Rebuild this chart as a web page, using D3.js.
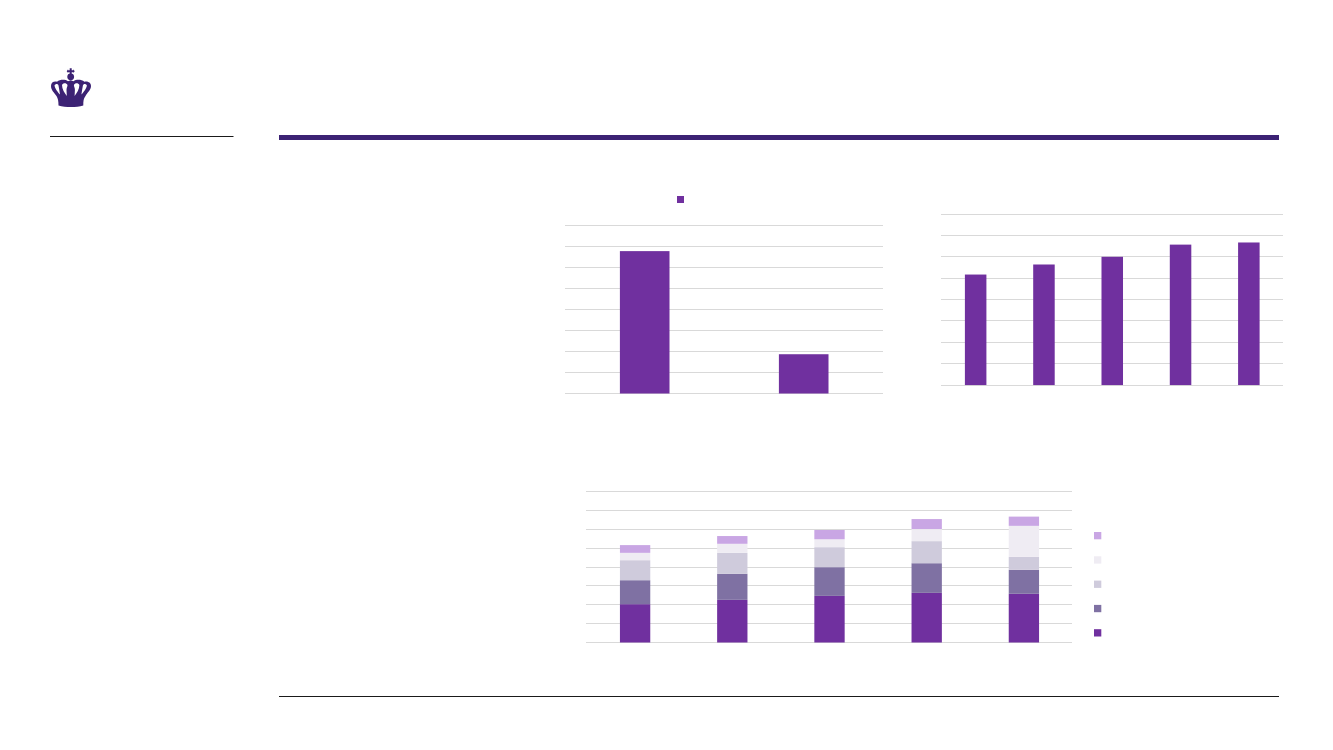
<!DOCTYPE html>
<html><head><meta charset="utf-8">
<script src="https://cdnjs.cloudflare.com/ajax/libs/d3/7.8.5/d3.min.js"></script>
<style>html,body{margin:0;padding:0;background:#fff}svg{display:block}</style>
</head><body><svg id="c" width="1333" height="750"></svg>
<script>
// Data (in the chart's own gridline units; the reference shows no labels)
const catsA = ["a1","a2"];
const valuesA = [6.78,1.87];
const catsB = ["b1","b2","b3","b4","b5"];
const valuesB = [5.17,5.64,6.00,6.57,6.67];
const seriesKeys = ["s1","s2","s3","s4","s5"];
const s1 = [2.03,2.26,2.47,2.63,2.58];
const s2 = [1.27,1.38,1.52,1.57,1.27];
const s3 = [1.06,1.11,1.06,1.17,0.69];
const s4 = [0.39,0.48,0.42,0.64,1.64];
const s5 = [0.41,0.41,0.49,0.53,0.49];
const seriesColors = ["#70309f","#7f71a3","#cfcbdc","#efecf3","#c9a6e4"];
const gridTicks = d3.range(0,9);
const PURPLE = "#70309f", GRID = "#d9d9d9", NAVY = "#3c2274";

const svg = d3.select("#c");
svg.append("rect").attr("width",1333).attr("height",750).attr("fill","#fff");

// frame rules
svg.append("rect").attr("x",279).attr("y",135).attr("width",1000).attr("height",5).attr("fill",NAVY);
svg.append("rect").attr("x",50).attr("y",136).attr("width",183.5).attr("height",1).attr("fill","#1a1a1a");
svg.append("rect").attr("x",279).attr("y",696).attr("width",1000).attr("height",1).attr("fill","#1a1a1a");

// crown
const crown = svg.append("g").attr("fill",NAVY);
crown.append("path").attr("d","M69.7,68.3h2v1.9h1.6v-.9l1.4,1.9l-1.4,1.9v-.9h-1.6v2h-2v-2h-1.6v.9l-1.4,-1.9l1.4,-1.9v.9h1.6z");
crown.append("circle").attr("cx",70.7).attr("cy",76.8).attr("r",3.4);
crown.append("path").attr("d","M58.5,105.6C58.5,101 58,98.5 56.5,96C54,92.5 51,90 51,86C51,82.5 54,81 57,81.8C60,79.3 65,79.2 68,81.2L70.7,80.2L73.4,81.2C76.4,79.2 81.4,79.3 84.4,81.8C87.4,81 91,82.5 91,86C91,90 87.4,92.5 85.5,96C83.5,98.5 83.3,101 83.3,105.6C76,107.6 66,107.6 58.5,105.6Z");
const holeLeft = "M54.5,85.5C55.5,83.5 58,83.5 58.5,85.5C59,88 59.5,91 60,94.5C58,92.5 55,88.5 54.5,85.5ZM62,85C63,82.5 66.5,82.5 67.5,85C67.5,86.5 66.5,88 66.5,90L66.8,96C64.5,93 62,89 62,85Z";
crown.append("path").attr("d",holeLeft).attr("fill","#fff");
crown.append("path").attr("d",holeLeft).attr("fill","#fff").attr("transform","translate(141.4,0) scale(-1,1)");

function gridAxis(g, y, w){
  g.call(d3.axisLeft(y).tickValues(gridTicks).tickSize(-w).tickFormat("").tickSizeOuter(0).offset(0));
  g.select(".domain").remove();
  g.selectAll("line").attr("stroke",GRID).attr("stroke-width",1).attr("shape-rendering","crispEdges");
}
function panel(xr, yr, cats, p, gridX){
  const x = d3.scaleBand().domain(cats).range(xr).paddingInner(p).paddingOuter(p/2);
  const y = d3.scaleLinear().domain([0,8]).range(yr);
  const g = svg.append("g");
  g.append("g").attr("transform",`translate(${gridX[0]},0)`).call(gridAxis,y,gridX[1]-gridX[0]);
  return {x,y,g};
}

// chart A
{
  const {x,y,g} = panel([565.2,883.2],[393.5,225.5],catsA,0.688,[565,883]);
  g.selectAll("rect.b").data(valuesA).join("rect").attr("class","b")
    .attr("x",(d,i)=>x(catsA[i])).attr("width",x.bandwidth())
    .attr("y",d=>y(d)).attr("height",d=>y(0)-y(d)).attr("fill",PURPLE);
  svg.append("rect").attr("x",677).attr("y",196).attr("width",7).attr("height",7).attr("fill",PURPLE);
}
// chart B
{
  const {x,y,g} = panel([941.5,1283],[385.05,214.05],catsB,0.685,[941,1283]);
  g.selectAll("rect.b").data(valuesB).join("rect").attr("class","b")
    .attr("x",(d,i)=>x(catsB[i])).attr("width",x.bandwidth())
    .attr("y",d=>y(d)).attr("height",d=>y(0)-y(d)).attr("fill",PURPLE);
}
// chart C (stacked)
{
  const {x,y,g} = panel([586.5,1072.5],[642.5,491.5],catsB,0.688,[586,1072]);
  const cols = [s1,s2,s3,s4,s5];
  const rows = catsB.map((c,i)=>{const o={cat:c}; seriesKeys.forEach((k,j)=>o[k]=cols[j][i]); return o;});
  const stacked = d3.stack().keys(seriesKeys)(rows);
  g.selectAll("g.s").data(stacked).join("g").attr("class","s").attr("fill",(d,i)=>seriesColors[i])
    .selectAll("rect").data(d=>d).join("rect")
    .attr("x",d=>x(d.data.cat)).attr("width",x.bandwidth())
    .attr("y",d=>y(d[1])).attr("height",d=>y(d[0])-y(d[1]));
  const ly = d3.scalePoint().domain(seriesKeys).range([632.8,535.6]);
  svg.append("g").selectAll("rect").data(seriesKeys).join("rect")
    .attr("x",1094).attr("y",d=>ly(d)-3.6).attr("width",7.3).attr("height",7.3)
    .attr("fill",(d,i)=>seriesColors[i]);
}
</script></body></html>
